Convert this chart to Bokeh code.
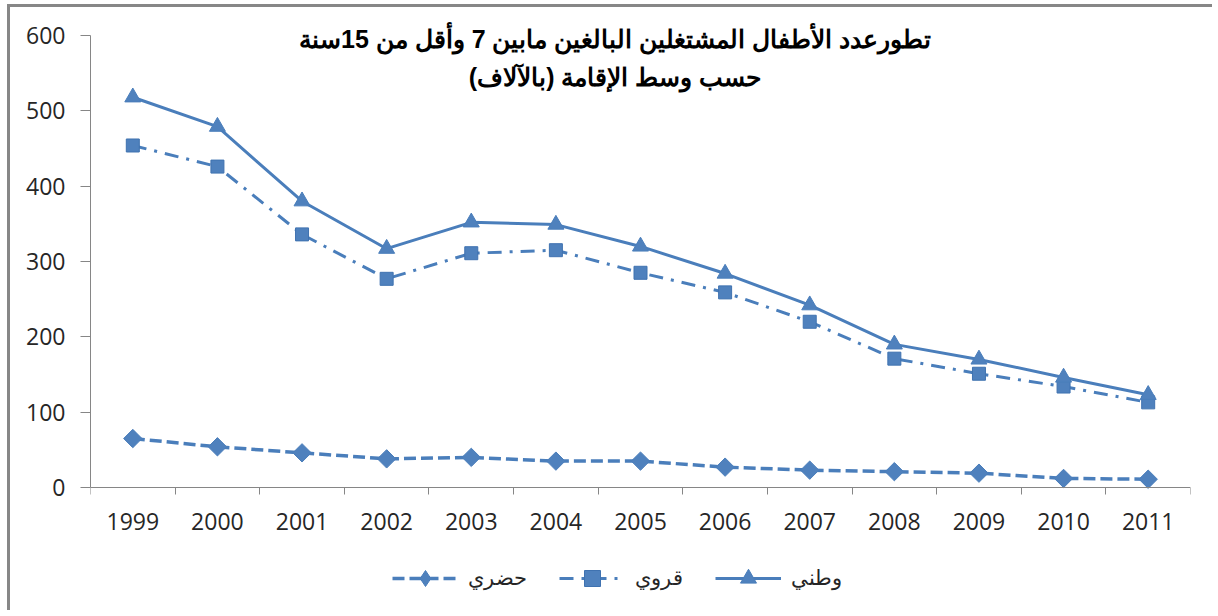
from bokeh.plotting import figure
from bokeh.models import (FixedTicker, Range1d, Legend, LegendItem, Label,
                          BasicTickFormatter)
from bokeh.embed import file_html
from bokeh.resources import INLINE
import numpy as np

# ---- data (thousands) ----
years = [1999, 2000, 2001, 2002, 2003, 2004, 2005, 2006, 2007, 2008, 2009, 2010, 2011]
national = [518, 479, 380, 317, 352, 349, 320, 284, 242, 190, 170, 146, 123]   # وطني
rural = [454, 426, 336, 277, 311, 315, 285, 259, 220, 171, 151, 134, 113]      # قروي
urban = [65, 54, 46, 38, 40, 35, 35, 27, 23, 21, 19, 12, 11]                   # حضري
y_ticks = [0, 100, 200, 300, 400, 500, 600]
series_names = ["حضري", "قروي", "وطني"]
title_lines = ["تطورعدد الأطفال المشتغلين البالغين مابين 7 وأقل من 15سنة",
               "حسب وسط الإقامة (بالآلاف)"]

BLUE = "#4A7EBB"
FILL = "#4F81BD"
GRAY = "#868686"
FONT = "Open Sans"
TFONT = "Liberation Sans"

# frame extends beyond the value axis (above for the title, below for the legend)
p = figure(width=1205, height=606, output_backend="svg", toolbar_location=None,
           x_range=Range1d(years[0] - 0.5, years[-1] + 0.5),
           y_range=Range1d(-158, 633.2),
           min_border_left=80, min_border_right=25,
           min_border_top=3, min_border_bottom=7)
p.styles = {"border-top": "3px solid #878787", "border-left": "3px solid #878787",
            "margin-left": "7px", "margin-top": "4px"}
p.outline_line_color = None
p.grid.visible = False
p.background_fill_color = "white"
p.border_fill_color = "white"

# axes
xa = p.xaxis[0]
xa.fixed_location = 0
xa.ticker = FixedTicker(ticks=years,
                        minor_ticks=[y - 0.5 for y in years] + [years[-1] + 0.5])
xa.formatter = BasicTickFormatter(use_scientific=False)
xa.major_tick_out = 0
xa.major_tick_in = 0
xa.minor_tick_out = 7
xa.minor_tick_in = 0
xa.minor_tick_line_color = GRAY
xa.axis_line_color = GRAY
xa.major_label_text_font = FONT
xa.major_label_text_font_size = "23px"
xa.major_label_text_color = "#262626"
xa.major_label_standoff = 19

ya = p.yaxis[0]
ya.ticker = FixedTicker(ticks=y_ticks)
ya.bounds = (y_ticks[0], y_ticks[-1])
ya.major_tick_out = 10
ya.major_tick_in = 0
ya.minor_tick_out = 0
ya.minor_tick_in = 0
ya.major_tick_line_color = GRAY
ya.axis_line_color = GRAY
ya.major_label_text_font = FONT
ya.major_label_text_font_size = "23px"
ya.major_label_text_color = "#262626"
ya.major_label_standoff = 15

# series
lu = p.line(years, urban, line_color=BLUE, line_width=3.5, line_dash="12 5")
su = p.scatter(years, urban, marker="square", angle=np.pi / 4, size=13,
               fill_color=FILL, line_color=BLUE)
lr = p.line(years, rural, line_color=BLUE, line_width=3, line_dash="14 8 3 8")
sr = p.scatter(years, rural, marker="square", size=13, fill_color=FILL, line_color="#3F72B0")
ln = p.line(years, national, line_color=BLUE, line_width=3)
sn = p.scatter(years, national, marker="triangle", size=16, fill_color=FILL, line_color=BLUE)

# legend diamond (legend markers are never rotated); zero size on the plot itself
sd = p.scatter(years, urban, marker="diamond", size=0, fill_color=FILL, line_color=BLUE)

legend = Legend(items=[LegendItem(label=series_names[0], renderers=[lu, sd]),
                       LegendItem(label=series_names[1], renderers=[lr, sr]),
                       LegendItem(label=series_names[2], renderers=[ln, sn])],
                orientation="horizontal", location=(302, 8),
                glyph_width=66, glyph_height=40, label_standoff=10, spacing=32,
                padding=0, margin=0, border_line_color=None,
                background_fill_alpha=0,
                label_text_font=TFONT, label_text_font_size="21px",
                label_text_color="#262626")
p.add_layout(legend, "center")

# title inside plot area
for i, t in enumerate(title_lines):
    p.add_layout(Label(x=2004.7, y=[596, 545][i], text=t, text_align="center",
                       text_baseline="middle", text_font=TFONT,
                       text_font_style="bold", text_font_size="25px",
                       text_color="black"))

open("out.html", "w").write(file_html(p, INLINE))
